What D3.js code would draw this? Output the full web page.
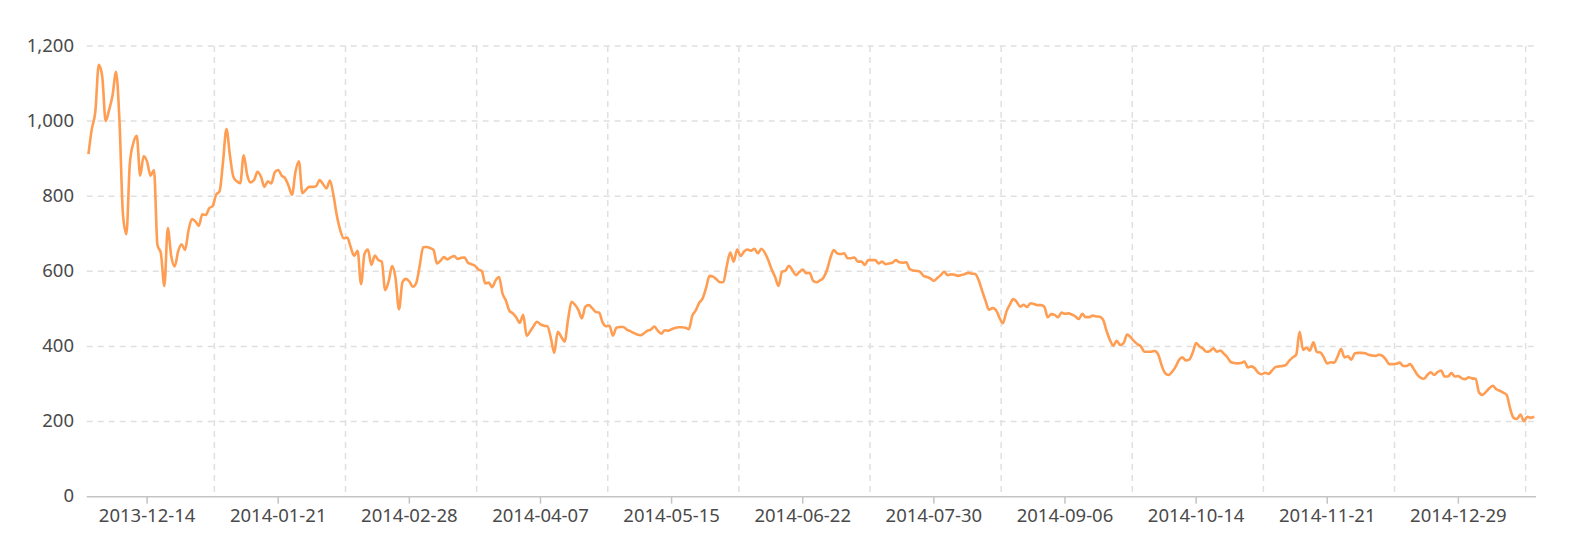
<!DOCTYPE html>
<html>
<head>
<meta charset="utf-8">
<script src="https://cdn.jsdelivr.net/npm/d3@7/dist/d3.min.js"></script>
<style>
  html, body { margin: 0; padding: 0; background: #fff; }
  svg { display: block; }
  text { font-family: "Noto Sans", "Open Sans", sans-serif; }
</style>
</head>
<body>
<svg id="chart" width="1587" height="555"></svg>
<script>
// ---- data ----
const startDate = "2013-11-27";   // first category (daily)
const values = [
  912,980,1025,1150,1119,1000,1030,1069,1131,1000,
  753,699,887,941,961,855,907,892,855,870,
  670,648,561,715,640,613,653,672,657,709,
  739,733,721,752,750,768,774,804,813,891,
  979,909,852,840,835,909,857,837,843,865,
  852,825,840,834,864,870,855,848,828,804,
  865,893,808,817,825,825,827,843,832,821,
  842,803,748,709,688,690,665,641,655,566,
  646,658,617,642,630,626,550,573,614,582,
  499,571,580,573,559,569,615,664,665,662,
  657,621,628,638,632,637,641,633,636,637,
  623,619,615,605,601,568,570,558,576,585,
  541,522,495,488,477,463,484,428,440,454,
  466,459,455,454,423,383,439,426,413,472,
  519,511,497,475,506,510,502,492,490,464,
  454,455,429,450,452,452,445,441,436,432,
  430,435,442,445,453,442,434,443,442,446,
  449,451,451,450,446,482,496,516,528,556,
  588,586,579,571,571,615,650,626,658,641,
  653,658,655,660,648,660,650,630,605,585,
  561,599,602,615,603,590,598,605,595,596,
  575,571,576,583,603,635,657,648,646,648,
  635,635,637,626,626,617,630,630,630,621,
  626,619,621,623,630,624,623,624,606,602,
  601,599,588,585,581,575,582,590,599,590,
  592,591,588,590,593,596,594,593,576,548,
  521,498,502,497,477,462,492,511,526,519,
  506,511,505,515,513,510,510,506,478,486,
  484,478,490,487,488,485,480,473,487,478,
  478,482,480,479,472,443,418,402,415,404,
  409,432,425,414,406,400,386,386,386,388,
  379,350,329,324,332,345,363,371,363,365,
  383,409,400,394,386,388,395,386,389,381,
  372,359,356,355,356,360,344,347,342,330,
  326,330,327,336,345,347,348,351,362,371,
  378,439,391,397,389,411,385,384,371,355,
  358,357,373,393,371,374,365,382,383,383,
  382,378,376,375,378,375,365,353,353,354,
  357,348,348,353,341,326,317,314,324,331,
  324,332,336,320,320,329,320,321,315,313,
  318,315,314,277,271,279,289,295,286,282,
  277,271,235,210,207,219,201,213,210,213
];
const xTickLabels = ["2013-12-14","2014-01-21","2014-02-28","2014-04-07","2014-05-15",
  "2014-06-22","2014-07-30","2014-09-06","2014-10-14","2014-11-21","2014-12-29"];
const yTicks = [0, 200, 400, 600, 800, 1000, 1200];

// categories: consecutive days
const fmt = d3.timeFormat("%Y-%m-%d");
const parse = d3.timeParse("%Y-%m-%d");
const day0 = parse(startDate);
const categories = values.map((v, i) => fmt(d3.timeDay.offset(day0, i)));

// ---- layout ----
const pLeft = 86.7, pRight = 1536, pTop = 46, pBottom = 496.7;
const svg = d3.select("#chart");

const x = d3.scaleBand().domain(categories).range([pLeft, pRight]).padding(0);
const y = d3.scaleLinear().domain([0, 1200]).range([pBottom, pTop]);
const bw = x.bandwidth();
const cx = c => x(c) + bw / 2;

// horizontal grid
svg.append("g").selectAll("line").data(yTicks.filter(t => t > 0)).join("line")
  .attr("x1", pLeft).attr("x2", pRight)
  .attr("y1", d => y(d)).attr("y2", d => y(d))
  .attr("stroke", "#e0e0e0").attr("stroke-width", 1.5)
  .attr("stroke-dasharray", "6,5");

// vertical grid: band boundaries between labelled categories
const labelIdx = xTickLabels.map(l => categories.indexOf(l));
const splitIdx = labelIdx.map(i => i + 20).filter(i => i < categories.length);
svg.append("g").selectAll("line").data(splitIdx).join("line")
  .attr("x1", i => x(categories[i])).attr("x2", i => x(categories[i]))
  .attr("y1", pTop).attr("y2", pBottom)
  .attr("stroke", "#e0e0e0").attr("stroke-width", 1.5)
  .attr("stroke-dasharray", "6,5");

// y labels
svg.append("g").selectAll("text").data(yTicks).join("text")
  .attr("x", 74).attr("y", d => y(d) + 5.7)
  .attr("text-anchor", "end")
  .attr("font-size", 18.5).attr("fill", "#4a4a4a")
  .text(d => d3.format(",")(d));

// x axis line
svg.append("line").attr("x1", pLeft).attr("x2", pRight)
  .attr("y1", pBottom).attr("y2", pBottom)
  .attr("stroke", "#c4c4c4").attr("stroke-width", 1.5);

// x ticks + labels
const xg = svg.append("g");
xg.selectAll("line").data(xTickLabels).join("line")
  .attr("x1", d => cx(d)).attr("x2", d => cx(d))
  .attr("y1", pBottom).attr("y2", pBottom + 7)
  .attr("stroke", "#c4c4c4").attr("stroke-width", 1.5);
xg.selectAll("text").data(xTickLabels).join("text")
  .attr("x", d => cx(d)).attr("y", 521.8)
  .attr("text-anchor", "middle")
  .attr("font-size", 18.5).attr("fill", "#4a4a4a")
  .text(d => d);

// line
const line = d3.line()
  .x((d, i) => cx(categories[i]))
  .y(d => y(d))
  .curve(d3.curveMonotoneX);
svg.append("path").datum(values)
  .attr("d", line)
  .attr("fill", "none")
  .attr("stroke", "#ff9d52")
  .attr("stroke-width", 2.6)
  .attr("stroke-linejoin", "round");
</script>
</body>
</html>
